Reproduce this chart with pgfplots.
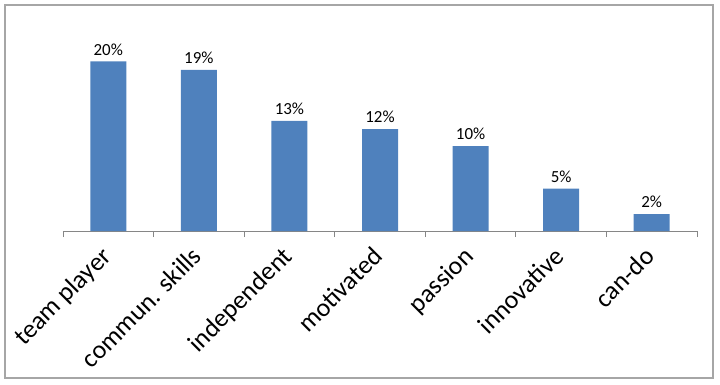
\documentclass[border=0pt]{standalone}
\usepackage{pgfplots}
\pgfplotsset{compat=1.18}
\usepackage{fontspec}
\setmainfont{Carlito}
\definecolor{barblue}{HTML}{4F81BD}
\definecolor{axgray}{HTML}{868686}
\definecolor{gridgray}{HTML}{A0A0A0}
\definecolor{framegray}{HTML}{A6A6A6}
\begin{document}
\begin{tikzpicture}
\begin{axis}[
  scale only axis,
  width=634bp, height=212bp,
  xmin=-0.5, xmax=6.5, ymin=0, ymax=25,
  axis x line*=bottom, axis y line=none,
  x axis line style={axgray, line width=0.8pt},
  xtick={0,...,6},
  xticklabels={team player, commun. skills, independent, motivated, passion, innovative, can-do},
  major x tick style={draw=none},
  minor xtick={-0.5,0.5,...,6.5},
  minor tick length=6bp,
  xtick align=outside,
  minor x tick style={axgray, line width=0.8pt},
  xticklabel style={rotate=45, anchor=north east, font=\fontsize{26}{28}\selectfont, inner sep=0pt, yshift=-1bp, xshift=-13bp},
  ytick={5,10,...,25},
  yticklabels={},
  major y tick style={draw=none},
  ymajorgrids,
  y grid style={gridgray, densely dotted, line width=0.6pt},
  ybar, bar width=36bp,
  /pgf/number format/assume math mode=true,
  nodes near coords={\pgfmathprintnumber{\pgfplotspointmeta}\%},
  every node near coord/.append style={font=\fontsize{17}{19}\selectfont, black, inner sep=2bp, yshift=4bp},
  clip=false,
]
\addplot[fill=barblue, draw=none] coordinates {(0,20) (1,19) (2,13) (3,12) (4,10) (5,5) (6,2)};
\end{axis}
\draw[framegray, line width=1.3pt] (-58bp,-147bp) rectangle (650bp,226bp);
\pgfresetboundingbox
\path[use as bounding box] (-63bp,-154bp) rectangle (657bp,231bp);
\end{tikzpicture}
\end{document}
